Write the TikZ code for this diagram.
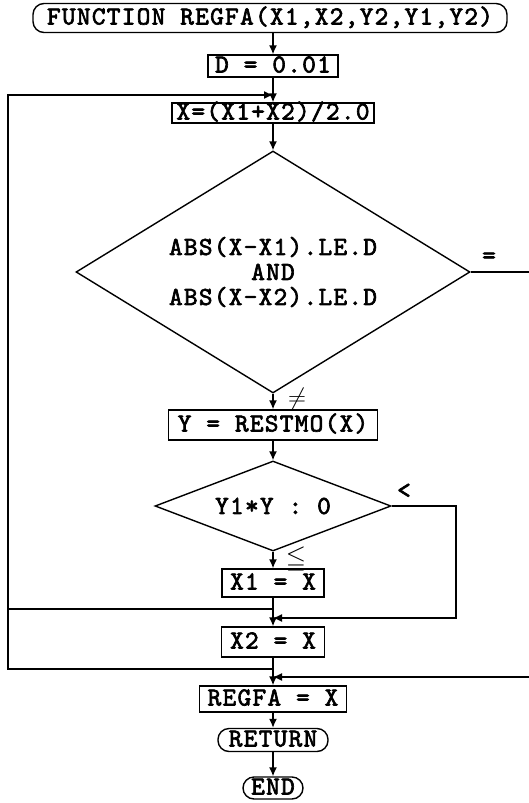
\documentclass[tikz,border=0pt]{standalone}
\usepackage{amssymb}
\usepackage{fontspec}
\usetikzlibrary{arrows.meta,shapes.geometric}
\newfontfamily\chartmono{lmmono10-regular.otf}[LetterSpace=5,FakeBold=2.5]
\newcommand{\chartfont}{\fontsize{26}{25}\selectfont\chartmono}

\begin{document}
\begin{tikzpicture}[x=1pt,y=-1pt,font=\chartfont,>={Latex[length=9pt,width=8pt]},line width=1.4pt,
term/.style={draw,rounded corners=11pt,inner xsep=1pt,inner ysep=0pt,text height=16pt,text depth=3pt},
proc/.style={draw,inner xsep=3pt,inner ysep=0pt,text height=16pt,text depth=3pt},
dec/.style={draw,diamond,inner sep=0pt,align=center},
flow/.style={->},lbl/.style={inner sep=0pt}]
\useasboundingbox (0,0) rectangle (528,803);
\node[term,minimum width=474pt,minimum height=29pt] (start) at (270,18) {FUNCTION REGFA(X1,X2,Y2,Y1,Y2)};
\node[proc,minimum width=130pt,minimum height=22pt] (d) at (273,66) {D = 0.01};
\node[proc,minimum width=202pt,minimum height=20pt] (xmid) at (273,113) {X=(X1+X2)/2.0};
\node[dec,aspect=1.63,minimum width=394pt,minimum height=242pt] (dia1) at (273,272) {ABS(X-X1).LE.D\\AND\\ABS(X-X2).LE.D};
\node[proc,minimum width=209pt,minimum height=30pt] (ybox) at (273,425) {Y = RESTMO(X)};
\node[dec,aspect=2.62,minimum width=236pt,minimum height=90pt] (dia2) at (273,506) {Y1*Y : 0};
\node[proc,minimum width=102pt,minimum height=28pt] (x1) at (273,583) {X1 = X};
\node[proc,minimum width=103pt,minimum height=30pt] (x2) at (273,642) {X2 = X};
\node[proc,minimum width=147pt,minimum height=26pt] (regfa) at (273,699) {REGFA = X};
\node[term,minimum width=110pt,minimum height=23pt] (ret) at (273,740) {RETURN};
\node[term,minimum width=60pt,minimum height=22pt] (fin) at (273,788) {END};
% branch labels
\node[lbl] (eq) at (489,258) {=};
\node[lbl] (ne) at (297,399) {$\neq$};
\node[lbl] (lt) at (404,491) {<};
\node[lbl] (le) at (296,560) {$\leqq$};
% junctions on the main line
\coordinate (jtop) at (273,95);
\coordinate (jleft) at (273,609);
\coordinate (jright) at (273,618);
\coordinate (jloop) at (273,669);
\coordinate (jeq) at (273,677);
\coordinate (cl) at (8,95);
\coordinate (rlt) at (456,618);
\coordinate (req) at (531,677);
\draw[flow] (start.south-|d)--(d.north);
\draw[flow] (d.south)--(xmid.north);
\draw[flow] (xmid.south)--(dia1.north);
\draw[flow] (dia1.south)--(ybox.north);
\draw[flow] (ybox.south)--(dia2.north);
\draw[flow] (dia2.south)--(x1.north);
\draw[flow] (x1.south)--(x2.north);
\draw[flow] (x2.south)--(regfa.north);
\draw[flow] (regfa.south)--(ret.north);
\draw[flow] (ret.south)--(fin.north);
\draw (jleft)--(jleft-|cl);
\draw[flow] (jloop)-|(cl)--(jtop);
\draw[flow] (dia2.east)-|(rlt)--(jright);
\draw[flow] (dia1.east)-|(req)--(jeq);
\end{tikzpicture}
\end{document}
